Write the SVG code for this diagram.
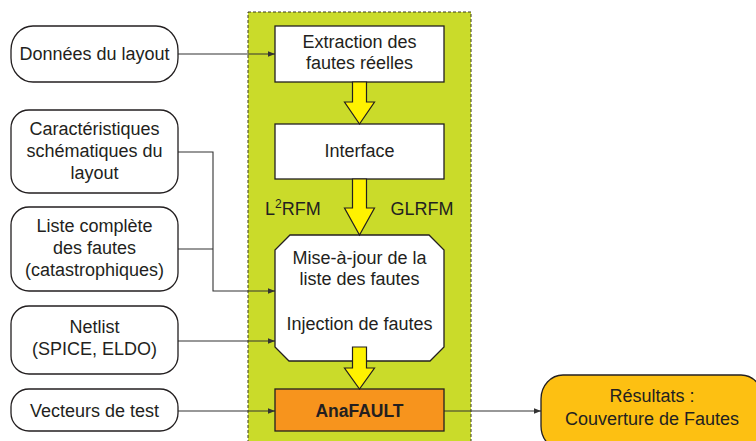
<svg xmlns="http://www.w3.org/2000/svg" width="756" height="441" viewBox="0 0 756 441">
<defs>
<style>
text{font-family:"Liberation Sans",Arial,sans-serif;font-size:18px;fill:#231F20;text-anchor:middle}
.in{fill:#fff;stroke:#231F20;stroke-width:1.3}
.box{fill:#fff;stroke:#231F20;stroke-width:1.3}
.conn{fill:none;stroke:#333;stroke-width:1.1}
.ya{fill:#FFF200;stroke:#231F20;stroke-width:1.2;stroke-linejoin:miter}
.bold{font-weight:bold;font-size:17.5px}
</style>
<marker id="ah" viewBox="0 0 10 10" refX="10" refY="5" markerWidth="7" markerHeight="7" markerUnits="userSpaceOnUse" orient="auto">
<path d="M0,1 L10,5 L0,9 Z" fill="#333"/>
</marker>
</defs>
<rect width="756" height="441" fill="#fff"/>
<g id="panel">
<rect x="248" y="12" width="223" height="440" fill="#CADB2A" stroke="#3a3a20" stroke-width="1" stroke-dasharray="3,2"/>
</g>
<g id="connectors">
<path class="conn" d="M178,54 H275" marker-end="url(#ah)"/>
<path class="conn" d="M178,152 H213 V291 H275" marker-end="url(#ah)"/>
<path class="conn" d="M178,249 H213"/>
<path class="conn" d="M178,341 H275" marker-end="url(#ah)"/>
<path class="conn" d="M178,411 H275" marker-end="url(#ah)"/>
<path class="conn" d="M444,411 H541" marker-end="url(#ah)"/>
</g>
<g id="n-donnees">
<rect class="in" x="11" y="26" width="167" height="56" rx="22" ry="24"/>
<text x="94.5" y="60">Données du layout</text>
</g>
<g id="n-caract">
<rect class="in" x="11" y="110" width="167" height="83" rx="18"/>
<text x="94.5" y="135">Caractéristiques</text>
<text x="94.5" y="157">schématiques du</text>
<text x="94.5" y="179">layout</text>
</g>
<g id="n-liste">
<rect class="in" x="11" y="207" width="167" height="84" rx="18"/>
<text x="94.5" y="232">Liste complète</text>
<text x="94.5" y="254">des fautes</text>
<text x="94.5" y="276">(catastrophiques)</text>
</g>
<g id="n-netlist">
<rect class="in" x="11" y="306" width="167" height="68" rx="18"/>
<text x="94.5" y="333">Netlist</text>
<text x="94.5" y="355">(SPICE, ELDO)</text>
</g>
<g id="n-vecteurs">
<rect class="in" x="11" y="389" width="167" height="42" rx="18"/>
<text x="94.5" y="417">Vecteurs de test</text>
</g>
<g id="n-extraction">
<rect class="box" x="275" y="26" width="169" height="56"/>
<text x="359.5" y="48">Extraction des</text>
<text x="359.5" y="69">fautes réelles</text>
</g>
<g id="n-interface">
<rect class="box" x="275" y="124" width="169" height="55"/>
<text x="359.5" y="157">Interface</text>
</g>
<g id="n-miseajour">
<polygon class="box" points="290,235 429,235 444,250 444,347 430,361 289,361 275,347 275,250"/>
<text x="359.5" y="264">Mise-à-jour de la</text>
<text x="359.5" y="285">liste des fautes</text>
<text x="359.5" y="330">Injection de fautes</text>
</g>
<g id="n-anafault">
<rect x="275" y="389" width="169" height="42" fill="#F7941D" stroke="#231F20" stroke-width="1.3"/>
<text class="bold" x="359.5" y="417">AnaFAULT</text>
</g>
<g id="n-resultats">
<rect x="541" y="375" width="222" height="75" rx="22" ry="24" fill="#FDC012" stroke="#231F20" stroke-width="1.3"/>
<text x="652" y="402">Résultats :</text>
<text x="652" y="425">Couverture de Fautes</text>
</g>
<g id="block-arrows">
<polygon class="ya" points="352.5,82 366.5,82 366.5,102 374.5,102 359.5,124 344.5,102 352.5,102"/>
<polygon class="ya" points="352.5,179 366.5,179 366.5,208 374.5,208 359.5,235 344.5,208 352.5,208"/>
<polygon class="ya" points="352.5,347 366.5,347 366.5,368 374.5,368 359.5,389 344.5,368 352.5,368"/>
</g>
<g id="labels">
<text x="265" y="215" style="text-anchor:start">L<tspan dy="-7" font-size="12">2</tspan><tspan dy="7">RFM</tspan></text>
<text x="422" y="215">GLRFM</text>
</g>
</svg>
